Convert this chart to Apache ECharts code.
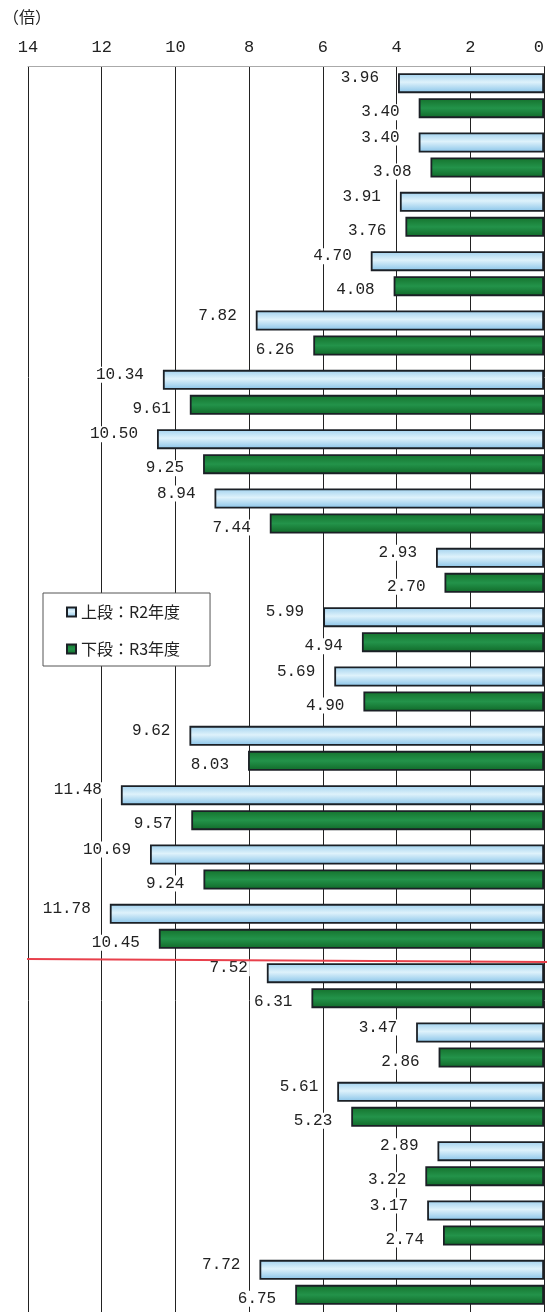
<!DOCTYPE html>
<html>
<head>
<meta charset="utf-8">
<script src="https://cdn.jsdelivr.net/npm/echarts@6/dist/echarts.min.js"></script>
<style>
  html, body { margin: 0; padding: 0; background: #fff; }
  #chart { width: 547px; height: 1312px; }
</style>
</head>
<body>
<div id="chart"></div>
<script>
// Rows, top to bottom (labels are not drawn on this axis)
const categories = ['1','2','3','4','5','6','7','8','9','10','11','12','13','14','15','16','17','18','19','20','21'];
// 上段：R2年度 (倍)
const valuesR2 = [3.96, 3.40, 3.91, 4.70, 7.82, 10.34, 10.50, 8.94, 2.93, 5.99, 5.69, 9.62, 11.48, 10.69, 11.78, 7.52, 3.47, 5.61, 2.89, 3.17, 7.72];
// 下段：R3年度 (倍)
const valuesR3 = [3.40, 3.08, 3.76, 4.08, 6.26, 9.61, 9.25, 7.44, 2.70, 4.94, 4.90, 8.03, 9.57, 9.24, 10.45, 6.31, 2.86, 5.23, 3.22, 2.74, 6.75];
const seriesNames = ['上段：R2年度', '下段：R3年度'];
const axisTicks = { min: 0, max: 14, interval: 2 };
const unitLabel = '（倍）';
// red separator drawn after this many rows
const separatorAfter = 15;

const numFont = '"Liberation Mono", "DejaVu Sans Mono", monospace';
const jpFont = '"Noto Sans CJK JP", "Noto Sans", sans-serif';

const blueFill = new echarts.graphic.LinearGradient(0, 0, 0, 1, [
  { offset: 0, color: '#9fd0ee' },
  { offset: 0.45, color: '#def2fb' },
  { offset: 1, color: '#86c2e8' }
]);
const greenFill = new echarts.graphic.LinearGradient(0, 0, 0, 1, [
  { offset: 0, color: '#14712c' },
  { offset: 0.5, color: '#23934a' },
  { offset: 1, color: '#106828' }
]);

function barLabel(dy) {
  return {
    show: true,
    position: 'left',
    distance: 17,
    offset: [0, dy],
    formatter: p => p.value.toFixed(2),
    fontFamily: numFont,
    fontSize: 16,
    color: '#222',
    backgroundColor: '#fff',
    padding: [0, 2]
  };
}

const chart = echarts.init(document.getElementById('chart'), null, { renderer: 'canvas' });

chart.setOption({
  backgroundColor: '#fff',
  animation: false,
  title: {
    text: unitLabel,
    left: -2,
    top: 4,
    textStyle: { fontFamily: jpFont, fontSize: 16, fontWeight: 'normal', color: '#222' }
  },
  legend: {
    orient: 'vertical',
    left: 43,
    top: 593,
    data: seriesNames,
    icon: 'rect',
    itemWidth: 9,
    itemHeight: 9,
    itemGap: 21,
    padding: [11, 30, 9, 23],
    backgroundColor: '#fff',
    borderColor: '#555',
    borderWidth: 1,
    textStyle: { fontFamily: jpFont, fontSize: 16, color: '#222' }
  },
  grid: { left: 28, right: 2, top: 66, height: 1249, containLabel: false },
  xAxis: {
    type: 'value',
    inverse: true,
    position: 'top',
    min: axisTicks.min,
    max: axisTicks.max,
    interval: axisTicks.interval,
    axisLine: { show: true, lineStyle: { color: '#aaa', width: 1 } },
    axisTick: { show: false },
    axisLabel: {
      margin: 10,
      fontFamily: numFont,
      fontSize: 17,
      color: '#222',
      alignMinLabel: 'right'
    },
    splitLine: { show: true, lineStyle: { color: '#222', width: 1 } }
  },
  yAxis: {
    type: 'category',
    inverse: true,
    data: categories,
    axisLine: { show: false },
    axisTick: { show: false },
    axisLabel: { show: false },
    splitLine: { show: false }
  },
  series: [
    {
      name: seriesNames[0],
      type: 'bar',
      data: valuesR2,
      barWidth: 20,
      barGap: '25%',
      itemStyle: { color: blueFill, borderColor: '#1b2026', borderWidth: 1.8 },
      label: barLabel(-5),
      z: 3
    },
    {
      name: seriesNames[1],
      type: 'bar',
      data: valuesR3,
      barWidth: 20,
      barGap: '25%',
      itemStyle: { color: greenFill, borderColor: '#1b2026', borderWidth: 1.8 },
      label: barLabel(4),
      z: 3
    }
  ]
});

// Separator between the two groups of rows, placed on the band boundary
function drawSeparator() {
  const yA = chart.convertToPixel({ yAxisIndex: 0 }, categories[separatorAfter - 1]);
  const yB = chart.convertToPixel({ yAxisIndex: 0 }, categories[separatorAfter]);
  const yMid = (yA + yB) / 2 + 4;
  const xLeft = chart.convertToPixel({ xAxisIndex: 0 }, axisTicks.max) - 1;
  const xRight = chart.getWidth();
  chart.setOption({
    graphic: [{
      type: 'line',
      z: 10,
      shape: { x1: xLeft, y1: yMid - 1, x2: xRight, y2: yMid + 2 },
      style: { stroke: '#e8404c', lineWidth: 2 }
    }]
  });
}
drawSeparator();
</script>
</body>
</html>
